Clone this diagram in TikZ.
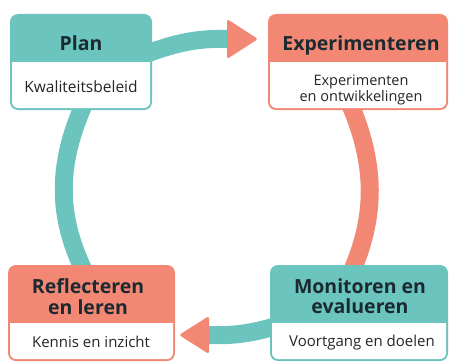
\documentclass[tikz,border=0pt]{standalone}
\usepackage{fontspec}
\setmainfont{Open Sans}
\definecolor{tealc}{HTML}{6CC4BE}
\definecolor{salm}{HTML}{F28874}
\definecolor{ink}{HTML}{1B2A30}
\definecolor{bodyink}{HTML}{222628}
\begin{document}
\begin{tikzpicture}[x=1pt,y=-1pt,
  boxnode/.style={inner sep=0pt, outer sep=0pt, anchor=north west},
  head/.style={inner sep=0pt, anchor=base, text=ink, font=\fontsize{19.5}{22}\selectfont\bfseries},
  sub/.style={inner sep=0pt, anchor=base, text=bodyink, font=\fontsize{#1}{16}\selectfont},
  sub/.default=15,
  band/.style={line width=18pt}
]
\useasboundingbox (0,0) rectangle (449,361);
\fill[white] (0,0) rectangle (449,361);

% box frames (named)
\node[boxnode, minimum width=142pt, minimum height=96pt] (plan) at (10,14) {};
\node[boxnode, minimum width=180pt, minimum height=96pt] (exp) at (268,14) {};
\node[boxnode, minimum width=167pt, minimum height=96pt] (refl) at (8,265) {};
\node[boxnode, minimum width=178pt, minimum height=96pt] (mon) at (270,265) {};

% connectors
\coordinate (headA) at (227,39);
\coordinate (headB) at (209,335);
\draw[tealc, band] ([xshift=-6pt,yshift=8pt]plan.east) .. controls (178,42) and (200,38) .. ([xshift=2pt]headA);
\fill[salm, rounded corners=2.5pt] ([yshift=20pt]headA) -- ([xshift=31pt]headA) -- ([yshift=-20pt]headA) -- cycle;
\draw[salm, band] ([xshift=-8pt,yshift=6pt]exp.south) .. controls (376,165) and (376,215) .. ([xshift=-7pt,yshift=-6pt]mon.north);
\draw[tealc, band] ([xshift=6pt,yshift=-13pt]mon.west) .. controls (250,334) and (230,336) .. ([xshift=-2pt]headB);
\fill[salm, rounded corners=2.5pt] ([yshift=19pt]headB) -- ([xshift=-30pt]headB) -- ([yshift=-19pt]headB) -- cycle;
\draw[tealc, band] ([xshift=3pt,yshift=6pt]plan.south) .. controls (57,165) and (57,215) .. ([xshift=-7.5pt,yshift=-6pt]refl.north);

% box bodies
% Plan
\fill[tealc, rounded corners=8pt] (plan.north west) rectangle (plan.south east);
\fill[white, rounded corners=6pt] (12,54) rectangle (150,108);
\fill[tealc] (12,52) rectangle (150,62);
% Experimenteren
\fill[salm, rounded corners=8pt] (exp.north west) rectangle (exp.south east);
\fill[white, rounded corners=6pt] (270,54) rectangle (446,108);
\fill[salm] (270,52) rectangle (446,62);
% Reflecteren
\fill[salm, rounded corners=8pt] (refl.north west) rectangle (refl.south east);
\fill[white, rounded corners=6pt] (10,315) rectangle (173,359);
\fill[salm] (10,313) rectangle (173,323);
% Monitoren
\fill[tealc, rounded corners=8pt] (mon.north west) rectangle (mon.south east);
\fill[white, rounded corners=6pt] (272,315) rectangle (446,359);
\fill[tealc] (272,313) rectangle (446,323);

% texts
\node[head] (planT) at (81,50) {Plan};
\node[sub=15.5] (planS) at (81,92) {Kwaliteitsbeleid};
\node[head] (expT) at (361,50) {Experimenteren};
\node[sub=14.5] (expS1) at (361,85) {Experimenten};
\node[sub=14.5] (expS2) at (361,101) {en ontwikkelingen};
\node[head] (reflT1) at (88,293) {Reflecteren};
\node[head] (reflT2) at (88,314) {en leren};
\node[sub] (reflS) at (91,347) {Kennis en inzicht};
\node[head] (monT1) at (360,293) {Monitoren en};
\node[head] (monT2) at (360,313) {evalueren};
\node[sub] (monS) at (362,346) {Voortgang en doelen};
\end{tikzpicture}
\end{document}
